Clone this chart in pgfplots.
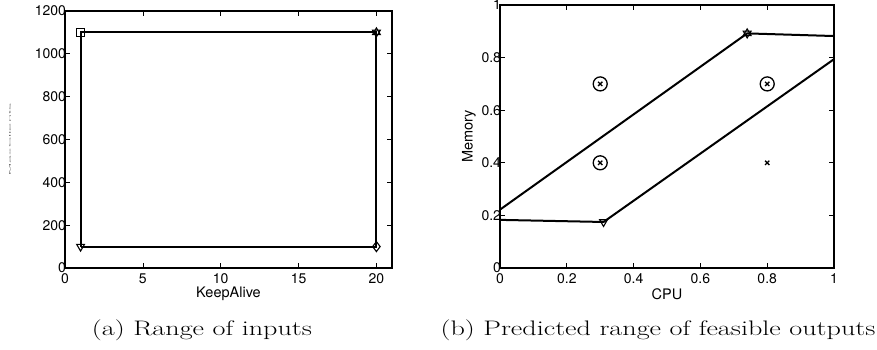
\documentclass[border=0pt]{standalone}
\usepackage{fontspec}
\usepackage{graphicx}
\usepackage{pgfplots}
\pgfplotsset{compat=1.18}
\usetikzlibrary{plotmarks}
\newfontfamily\helv{TeX Gyre Heros}
\newcommand{\tickfont}{\helv\fontsize{14}{15}\selectfont}
\newcommand{\labfont}{\helv\fontsize{14.5}{16}\selectfont}
\pgfplotsset{
  matlab/.style={
    scale only axis,
    anchor=south west,
    axis line style={line width=1.4pt},
    tick style={black, line width=0.7pt},
    tick align=inside,
    major tick length=5pt,
    minor tick num=0,
    ticklabel style={font=\tickfont},
    /pgf/number format/assume math mode=true,
    /pgf/number format/1000 sep={},
    label style={font=\labfont},
    xticklabel style={yshift=-2pt},
    yticklabel style={xshift=4.5pt},
    xlabel style={at={(axis description cs:0.5,0)}, anchor=center, yshift=-26pt},
    every axis plot/.append style={line width=2pt, black},
  }
}
\begin{document}
\begin{tikzpicture}[x=1pt,y=1pt]
\path[use as bounding box] (0,0) rectangle (877,349);
% (a)
\begin{axis}[matlab,
  at={(65pt,81pt)}, width=327pt, height=257pt,
  xmin=0, xmax=21, ymin=0, ymax=1200,
  xtick={0,5,10,15,20}, ytick={0,200,400,600,800,1000,1200},
  xlabel={KeepAlive},
  ylabel={\scalebox{1}[0.12]{\color{darkgray}MaxClients}},
  ylabel style={at={(axis description cs:0,0.5)}, rotate=0, yshift=55pt, anchor=center},
]
\addplot[mark=none] coordinates {(1,100) (1,1100) (20,1100) (20,100) (1,100)};
\addplot[only marks, mark=square, mark size=4pt, line width=1.4pt] coordinates {(1,1100)};
\addplot[only marks, mark=triangle, mark size=4.5pt, mark options={rotate=180}, line width=1.1pt] coordinates {(1,100)};
\addplot[only marks, mark=diamond, mark size=5pt, line width=1.1pt] coordinates {(20,100)};
\addplot[only marks, mark=triangle, mark size=4.5pt, line width=1.1pt] coordinates {(20,1100)};
\addplot[only marks, mark=triangle, mark size=4.5pt, mark options={rotate=180}, line width=1.1pt] coordinates {(20,1100)};
\end{axis}
% (b)
\begin{axis}[matlab,
  at={(500pt,81pt)}, width=334pt, height=263pt,
  xmin=0, xmax=1, ymin=0, ymax=1,
  xtick={0,0.2,0.4,0.6,0.8,1}, ytick={0,0.2,0.4,0.6,0.8,1},
  xlabel={CPU}, ylabel={Memory},
  ylabel style={at={(axis description cs:0,0.5)}, yshift=31pt, anchor=center},
]
\addplot[mark=none] coordinates {(0,0.222) (0.74,0.892) (1,0.882)};
\addplot[mark=none] coordinates {(0,0.183) (0.31,0.175) (1,0.794)};
\addplot[only marks, mark=triangle, mark size=4.5pt, mark options={rotate=180}, line width=1.1pt] coordinates {(0.31,0.175)};
\addplot[only marks, mark=triangle, mark size=4.5pt, line width=1.1pt] coordinates {(0.74,0.892)};
\addplot[only marks, mark=triangle, mark size=4.5pt, mark options={rotate=180}, line width=1.1pt] coordinates {(0.74,0.892)};
\addplot[only marks, mark=o, mark size=7pt, line width=1.3pt] coordinates {(0.3,0.7) (0.3,0.4) (0.8,0.7)};
\addplot[only marks, mark=x, mark size=3pt, line width=1.3pt] coordinates {(0.3,0.7) (0.3,0.4) (0.8,0.7) (0.8,0.4)};
\end{axis}
% captions
\node[anchor=base, inner sep=0pt, font=\fontsize{21}{24}\selectfont] at (202,14) {\scalebox{1.34}[1]{(a) Range of inputs}};
\node[anchor=base, inner sep=0pt, font=\fontsize{21}{24}\selectfont] at (658,14) {\scalebox{1.34}[1]{(b) Predicted range of feasible outputs}};
\end{tikzpicture}
\end{document}
